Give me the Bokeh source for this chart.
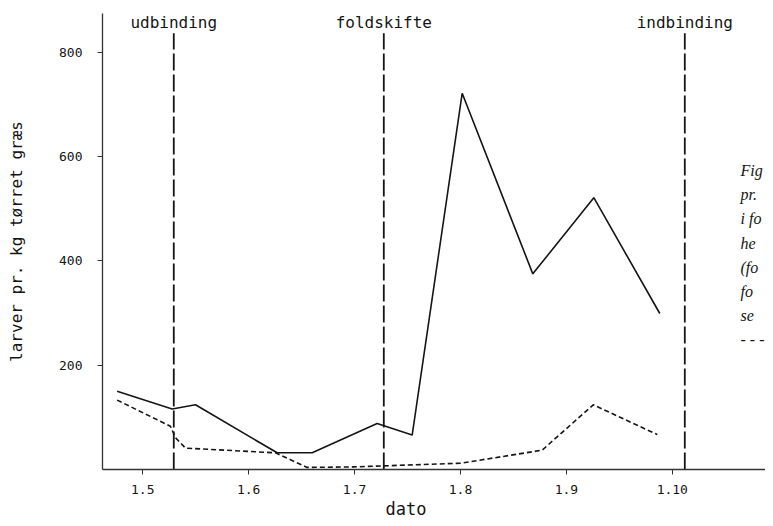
from bokeh.plotting import figure
from bokeh.models import Range1d, FixedTicker, ColumnDataSource, Title
from bokeh.core.properties import value
from bokeh.embed import file_html
from bokeh.resources import INLINE

# ---- data (x in month units: 5 = 1 May, 6 = 1 June, ...) ----
solid_x = [4.758, 5.278, 5.498, 6.269, 6.600, 7.213, 7.544, 8.016, 8.683, 9.259, 9.882]
solid_y = [150, 116, 124, 32, 32, 88, 66, 721, 375, 521, 299]
dashed_x = [4.758, 5.261, 5.309, 5.403, 6.253, 6.552, 6.990, 8.000, 8.771, 9.254, 9.858]
dashed_y = [133, 83, 61, 41, 32, 4, 5, 12, 37, 124, 67]
event_names = ["udbinding", "foldskifte", "indbinding"]
event_x = [5.293, 7.276, 10.118]
month_ticks = [5, 6, 7, 8, 9, 10]
month_labels = ["1.5", "1.6", "1.7", "1.8", "1.9", "1.10"]
y_ticks = [200, 400, 600, 800]
y_label = "larver pr. kg tørret græs"
x_label = "dato"
caption_fragments = ["Fig", "pr.", "i fo", "he", "(fo", "fo", "se", "- - -"]

FONT = "DejaVu Sans Mono"
INK = "#151515"

p = figure(width=765, height=518, output_backend="svg", toolbar_location=None,
           x_range=Range1d(4.62, 10.88), y_range=Range1d(0, 874),
           min_border_left=102, min_border_right=0, min_border_top=13, min_border_bottom=46)
p.outline_line_color = None
p.grid.visible = False
p.background_fill_color = "white"
p.border_fill_color = "white"

for ax in (p.xaxis[0], p.yaxis[0]):
    ax.axis_line_color = "#333333"
    ax.axis_line_width = 1.3
    ax.major_tick_line_color = "#333333"
    ax.major_tick_out = 5
    ax.major_tick_in = 0
    ax.minor_tick_line_color = None
    ax.major_label_text_font = FONT
    ax.major_label_text_font_size = "13px"
    ax.major_label_text_color = INK

p.xaxis.ticker = FixedTicker(ticks=month_ticks)
p.xaxis.major_label_overrides = {t: l for t, l in zip(month_ticks, month_labels)}
p.xaxis.major_label_standoff = 10
p.yaxis.ticker = FixedTicker(ticks=y_ticks)
p.yaxis.major_label_standoff = 15
p.yaxis.axis_label = y_label
p.yaxis.axis_label_text_font = FONT
p.yaxis.axis_label_text_font_style = "normal"
p.yaxis.axis_label_text_font_size = "16px"
p.yaxis.axis_label_text_color = INK
p.yaxis.axis_label_standoff = 30

# x label "dato", placed left of the frame centre as in the original
p.add_layout(Title(text=x_label, align="left", offset=283, standoff=0,
                   text_font=FONT, text_font_size="17px", text_font_style="normal",
                   text_color=INK), "below")

# event lines
ev = ColumnDataSource(dict(x=event_x, y0=[0] * len(event_x), y1=[836] * len(event_x),
                           name=event_names, ty=[857] * len(event_x)))
p.segment(x0="x", y0="y0", x1="x", y1="y1", source=ev, line_color=INK,
          line_width=1.8, line_dash="17 4")
p.text(x="x", y="ty", text="name", source=ev, text_font=value(FONT),
       text_font_size="16px", text_align="center", text_baseline="middle", text_color=INK)

# series
p.line(solid_x, solid_y, line_color=INK, line_width=1.6)
p.line(dashed_x, dashed_y, line_color=INK, line_width=1.6, line_dash="5 3")

# caption fragments at the right edge
cap_y = [573 - 46.3 * i for i in range(len(caption_fragments))]
cap = ColumnDataSource(dict(x=[10.644] * len(caption_fragments), y=cap_y, t=caption_fragments))
p.text(x="x", y="y", text="t", source=cap, text_font=value("Liberation Serif"),
       text_font_style="italic", text_font_size="16px", text_align="left",
       text_baseline="middle", text_color=INK)

open("out.html", "w").write(file_html(p, INLINE))
